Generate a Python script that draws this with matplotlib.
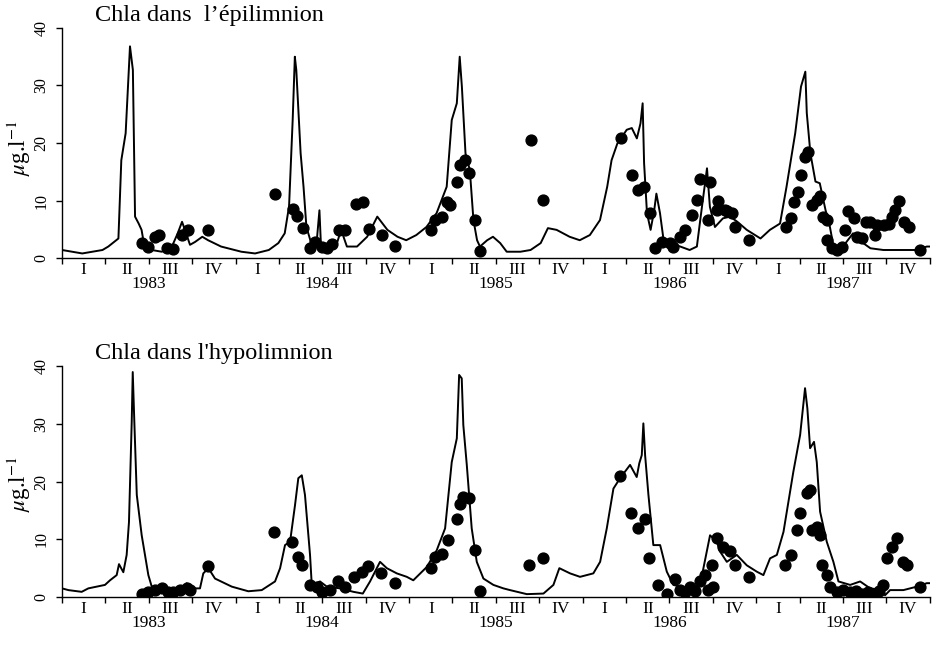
import matplotlib
matplotlib.use("Agg")
from matplotlib import pyplot as plt

# time in months since January 1983
annees = ["1983", "1984", "1985", "1986", "1987"]
trimestres = ["I", "II", "III", "IV"]

# epilimnion: simulated curve
epi_mois = [0.0, 1.4, 2.8, 3.2, 3.9, 4.1, 4.4, 4.7, 4.9, 5.05, 5.3, 5.5, 5.7, 6.2, 6.9, 7.6, 8.0, 8.3, 8.5,
            8.85, 9.2, 9.7, 10.1, 11.0, 12.4, 13.35, 14.3, 14.96, 15.4, 15.7, 15.95, 16.1, 16.2, 16.5, 16.7,
            16.9, 17.3, 17.6, 17.8, 17.9, 18.3, 19.0, 19.3, 19.7, 20.4, 21.1, 21.8, 22.5, 23.2, 23.8, 24.5,
            25.2, 25.9, 26.6, 26.95, 27.3, 27.5, 27.65, 27.9, 28.2, 28.45, 28.7, 28.9, 29.4, 29.8, 30.3,
            30.75, 31.7, 32.4, 33.1, 33.6, 34.2, 35.1, 35.8, 36.5, 37.2, 37.7, 38.0, 38.4, 39.05, 39.4,
            39.75, 40.0, 40.15, 40.25, 40.45, 40.7, 40.95, 41.1, 41.35, 41.6, 42.05, 42.75, 43.4, 43.9,
            44.25, 44.6, 44.8, 45.15, 45.7, 46.2, 46.7, 47.35, 48.3, 48.95, 49.65, 50.1, 50.7, 51.1, 51.4,
            51.5, 51.75, 52.1, 52.4, 52.8, 53.1, 53.35, 54.0, 54.7, 55.4, 55.9, 56.8, 58.2, 59.1, 59.8, 60.0]
epi_sim = [1.4, 0.8, 1.4, 2.0, 3.4, 17.0, 21.7, 36.8, 32.7, 7.2, 6.0, 4.9, 2.0, 1.4, 1.1, 2.0, 4.3, 6.3, 4.9,
           2.3, 2.8, 3.7, 3.1, 2.0, 1.1, 0.8, 1.4, 2.6, 4.3, 9.0, 24.0, 35.0, 32.7, 18.2, 12.4,
           5.4, 2.0, 2.5, 8.3, 2.5, 2.0, 2.5, 4.9, 2.0, 2.0, 3.7, 7.2, 4.9, 3.7, 3.1, 4.0,
           5.4, 7.8, 12.4, 24.0, 26.9, 35.0, 29.8, 18.2, 15.3, 6.6, 3.1, 2.0, 3.1, 3.7, 2.6,
           1.1, 1.1, 1.4, 2.6, 5.2, 4.9, 3.7, 3.1, 4.0, 6.6, 12.4, 17.0, 19.9, 22.3, 22.6,
           20.8, 23.4, 26.9, 16.5, 7.8, 4.9, 8.3, 11.2, 7.8, 3.1, 2.6, 2.0, 1.4, 2.0,
           8.9, 15.6, 8.9, 5.4, 6.9, 7.2, 6.3, 4.9, 3.4, 4.9, 6.0, 12.4, 21.7, 29.8, 32.4,
           25.2, 18.2, 13.3, 13.0, 8.3, 5.4, 2.0, 2.0, 4.3, 2.6, 1.7, 1.4, 1.4, 1.4, 2.0, 2.0]

# epilimnion: measurements
epi_obs_mois = [5.55, 5.97, 6.43, 6.71, 7.24, 7.70, 8.28, 8.73, 10.12, 14.73, 15.95, 16.27, 16.69, 17.15,
                17.5, 17.96, 18.31, 18.65, 19.18, 19.57, 20.33, 20.80, 21.25, 22.11, 23.03, 25.50, 25.80,
                26.26, 26.60, 26.83, 27.34, 27.52, 27.87, 28.17, 28.56, 28.91, 32.41, 33.28, 38.64, 39.40,
                39.85, 40.25, 40.66, 41.01, 41.47, 42.05, 42.27, 42.74, 43.08, 43.55, 43.93, 44.12, 44.81,
                44.70, 45.38, 45.27, 45.97, 45.85, 46.31, 46.54, 47.53, 50.07, 50.39, 50.62, 50.92, 51.08,
                51.38, 51.61, 51.85, 52.19, 52.42, 52.65, 52.88, 52.93, 53.23, 53.58, 53.92, 54.15, 54.38,
                54.77, 54.96, 55.30, 55.60, 55.89, 56.24, 56.36, 56.82, 57.17, 57.40, 57.63, 57.91, 58.21,
                58.55, 59.35]
epi_obs = [2.6, 2.0, 3.6, 4.0, 1.8, 1.5, 4.0, 4.8, 4.9, 11.1, 8.5, 7.3, 5.2, 1.8,
           2.8, 2.0, 1.7, 2.4, 4.8, 4.8, 9.4, 9.8, 5.0, 4.0, 2.1, 4.9, 6.7,
           7.2, 9.8, 9.2, 13.3, 16.1, 17.0, 14.7, 6.6, 1.3, 20.6, 10.1, 20.9, 14.4,
           11.8, 12.4, 7.8, 1.8, 2.8, 2.7, 1.9, 3.7, 4.9, 7.5, 10.1, 13.7, 13.3,
           6.6, 10.0, 8.3, 8.1, 8.3, 7.8, 5.4, 3.2, 5.4, 6.9, 9.8, 11.4, 14.4,
           17.6, 18.5, 9.2, 10.1, 10.7, 7.2, 6.6, 3.1, 1.7, 1.4, 2.0, 4.8, 8.2,
           6.9, 3.7, 3.4, 6.3, 6.2, 4.0, 5.7, 5.7, 6.0, 7.2, 8.3, 10.0, 6.3,
           5.4, 1.4]

# hypolimnion: simulated curve
hypo_mois = [0.0, 0.44, 1.36, 1.82, 2.97, 3.32, 3.78, 3.94, 4.24, 4.47, 4.63, 4.82, 4.89, 5.0, 5.17, 5.51,
             5.97, 6.31, 7.12, 8.28, 8.62, 8.97, 9.54, 9.77, 10.12, 10.58, 11.74, 12.88, 13.81, 14.73,
             15.08, 15.42, 15.77, 16.11, 16.34, 16.58, 16.80, 17.15, 17.27, 17.84, 18.31, 19.23, 20.15,
             20.80, 21.30, 21.99, 22.46, 23.15, 23.84, 24.29, 25.22, 25.91, 26.49, 26.95, 27.30, 27.46,
             27.64, 27.75, 27.99, 28.33, 28.68, 29.14, 29.83, 30.52, 30.98, 32.14, 33.29, 33.98, 34.39,
             35.13, 35.82, 36.74, 37.21, 37.67, 38.13, 38.59, 39.28, 39.74, 39.92, 40.09, 40.20, 40.32,
             40.55, 40.89, 41.36, 41.82, 42.27, 43.20, 44.12, 44.81, 45.28, 45.50, 45.97, 46.66, 47.35,
             48.04, 48.50, 48.96, 49.43, 49.89, 50.57, 51.04, 51.38, 51.54, 51.73, 52.0, 52.19, 52.42,
             52.88, 53.34, 53.69, 54.50, 55.19, 55.88, 56.80, 56.91, 57.26, 58.18, 59.11, 59.80, 60.0]
hypo_sim = [1.5, 1.2, 0.9, 1.5, 2.1, 2.9, 3.8, 5.7, 4.3, 7.3, 13.0, 30.4, 39.0, 30.4, 17.7, 10.7,
            3.8, 0.9, 0.8, 1.5, 2.4, 1.5, 1.5, 4.1, 5.0, 3.2, 1.8, 1.0, 1.2, 2.7,
            5.0, 9.0, 9.6, 15.9, 20.6, 21.1, 17.7, 7.3, 2.1, 2.7, 1.8, 1.5, 0.9,
            0.6, 2.7, 6.1, 5.0, 4.1, 3.5, 2.9, 5.2, 8.1, 11.9, 23.4, 27.5, 38.5,
            37.9, 29.8, 22.9, 11.9, 6.1, 3.2, 2.1, 1.5, 1.2, 0.5, 0.6, 2.1, 5.0,
            4.1, 3.5, 4.1, 6.1, 11.9, 18.8, 20.6, 22.9, 20.8, 23.2, 24.6, 30.1, 24.6,
            17.7, 9.0, 9.0, 4.4, 2.1, 1.5, 2.1, 10.7, 9.6, 7.9, 6.1, 7.3, 5.5,
            4.4, 3.8, 6.7, 7.3, 11.3, 21.7, 28.1, 36.2, 32.7, 25.8, 26.9, 23.4, 14.8,
            9.6, 6.1, 2.7, 2.1, 2.7, 1.5, 1.2, 0.3, 1.2, 1.2, 1.8, 2.4, 2.4]

# hypolimnion: measurements
hypo_obs_mois = [5.55, 5.97, 6.43, 6.89, 7.35, 7.70, 8.16, 8.62, 8.85, 10.08, 14.68, 15.89, 16.34, 16.58,
                 17.15, 17.61, 17.96, 18.53, 19.11, 19.57, 20.19, 20.73, 21.18, 22.06, 23.03, 25.50, 25.80,
                 26.26, 26.72, 27.34, 27.52, 27.75, 28.17, 28.56, 28.91, 32.32, 33.28, 38.59, 39.33, 39.85,
                 40.32, 40.61, 41.24, 41.82, 42.39, 42.74, 43.08, 43.43, 43.78, 44.12, 44.47, 44.68, 44.93,
                 45.04, 45.27, 45.73, 46.20, 46.54, 47.53, 50.0, 50.41, 50.85, 51.04, 51.50, 51.73, 51.85,
                 52.19, 52.42, 52.54, 52.88, 53.11, 53.6, 54.0, 54.5, 54.9, 55.3, 55.7, 56.1, 56.5, 56.80,
                 57.03, 57.38, 57.72, 58.18, 58.41, 59.35]
hypo_obs = [0.5, 0.8, 1.2, 1.5, 0.9, 0.8, 1.2, 1.5, 1.2, 5.3, 11.3, 9.6, 7.0, 5.5,
            2.1, 1.8, 0.9, 1.2, 2.8, 1.8, 3.5, 4.4, 5.3, 4.1, 2.4, 5.1, 7.0,
            7.4, 9.9, 13.5, 16.1, 17.4, 17.1, 8.1, 1.0, 5.5, 6.7, 21.0, 14.6, 11.9,
            13.6, 6.7, 2.0, 0.6, 3.2, 1.2, 0.8, 1.8, 1.0, 2.7, 3.8, 1.2, 5.5,
            1.8, 10.2, 8.7, 7.9, 5.5, 3.4, 5.5, 7.3, 11.6, 14.5, 18.0, 18.5, 11.6,
            12.2, 10.7, 5.5, 3.8, 1.8, 0.8, 1.3, 0.9, 1.1, 0.5, 0.8, 0.6, 1.0, 2.1,
            6.7, 8.7, 10.2, 6.1, 5.5, 1.8]

plt.rcParams["font.family"] = ["Liberation Serif", "DejaVu Serif"]
plt.rcParams["mathtext.fontset"] = "stix"

fig = plt.figure(figsize=(9.34, 6.5), dpi=100)
ax1 = fig.add_axes([0.0664, 0.603, 0.929, 0.354])
ax2 = fig.add_axes([0.0664, 0.0815, 0.929, 0.355])

panneaux = [
    (ax1, epi_mois, epi_sim, epi_obs_mois, epi_obs, "Chla dans  l\u2019\u00e9pilimnion", 0.48),
    (ax2, hypo_mois, hypo_sim, hypo_obs_mois, hypo_obs, "Chla dans l'hypolimnion", 0.49),
]

for ax, xm, ys, xo, yo, titre, ylab_y in panneaux:
    ax.plot(xm, ys, color="black", linewidth=1.4, zorder=2)
    ax.plot(xo, yo, linestyle="none", marker="o", markersize=7.8, color="black", zorder=3)
    ax.set_xlim(0, 60)
    ax.set_ylim(0, 40)
    ax.spines["top"].set_visible(False)
    ax.spines["right"].set_visible(False)
    ax.spines["left"].set_linewidth(1.0)
    ax.spines["bottom"].set_linewidth(1.0)

    # quarter boundaries as ticks, quarter names between them
    ax.set_xticks(range(0, 61, 3))
    ax.set_xticklabels([])
    ax.tick_params(axis="x", which="major", direction="out", length=4, width=1)
    ax.set_xticks([1.5 + 3 * i for i in range(20)], minor=True)
    ax.set_xticklabels(trimestres * 5, minor=True, fontsize=12.5)
    ax.tick_params(axis="x", which="minor", length=0, pad=3)
    for i, an in enumerate(annees):
        ax.annotate(an, xy=(6 + 12 * i, 0), xycoords=("data", "axes fraction"),
                    xytext=(0, -18.5), textcoords="offset points",
                    ha="center", va="center", fontsize=12.5)

    ax.set_yticks([0, 10, 20, 30, 40])
    ax.set_yticklabels(["0", "10", "20", "30", "40"], rotation=90, va="center", fontsize=11.5)
    ax.tick_params(axis="y", direction="out", length=4, width=1, pad=5)
    ax.set_ylabel(r"$\mu$g.l$^{-1}$", fontsize=16.5, labelpad=0)
    ax.yaxis.set_label_coords(-0.033, ylab_y)

    ax.text(0.038, 1.01, titre, transform=ax.transAxes, ha="left", va="bottom", fontsize=17.5)

fig.savefig("out.png", dpi=100)
